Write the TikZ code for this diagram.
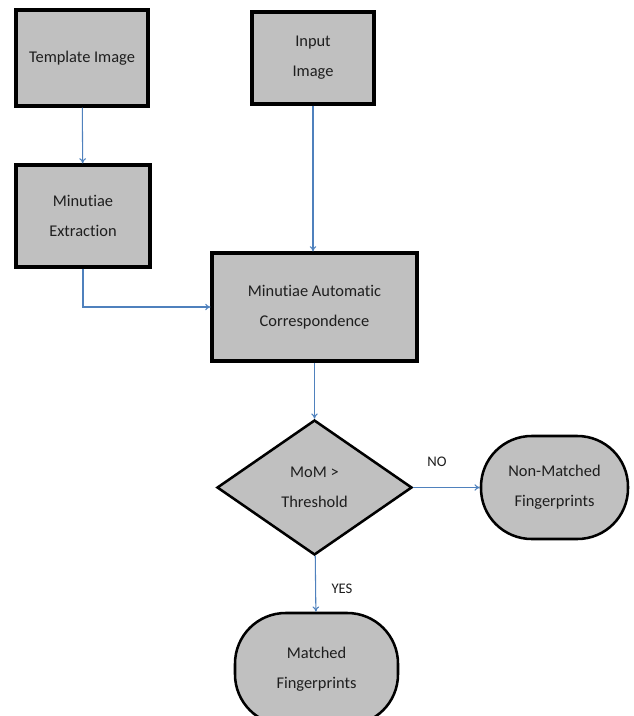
\documentclass[tikz,border=0pt]{standalone}
\usepackage{fontspec}
\setmainfont[Ligatures={NoCommon,NoContextual}]{Carlito}
\usetikzlibrary{shapes.geometric,arrows.meta}
\definecolor{boxgray}{HTML}{C0C0C0}
\definecolor{linkblue}{HTML}{4F81BD}
\definecolor{txt}{HTML}{1E1E1E}
\begin{document}
\begin{tikzpicture}[x=0.75pt,y=-0.75pt,
  every node/.style={text=txt,font=\fontsize{12.3}{22.5}\selectfont,align=center,inner sep=0pt},
  rectbox/.style={draw=black,line width=2.3pt,fill=boxgray,rectangle},
  roundbox/.style={draw=black,line width=1.9pt,fill=boxgray,rectangle,rounded corners=38pt},
  decision/.style={draw=black,line width=1.9pt,fill=boxgray,diamond},
  link/.style={draw=linkblue,line width=0.8pt,-{To[length=4pt,width=5pt]}},
  lbl/.style={font=\fontsize{11}{13}\selectfont}]
\clip (0,0) rectangle (633,716);
\node[rectbox,minimum width=99pt,minimum height=72pt] (ti) at (82,58) {Template Image};
\node[rectbox,minimum width=91.5pt,minimum height=69pt] (inp) at (313,58) {Input\\Image};
\node[rectbox,minimum width=100.5pt,minimum height=76.5pt] (me) at (83,216) {Minutiae\\Extraction};
\node[rectbox,minimum width=153.75pt,minimum height=81pt] (mac) at (314.5,307) {Minutiae Automatic\\Correspondence};
\node[decision,minimum width=146.25pt,minimum height=101.25pt] (dec) at (314.5,487.5) {MoM >\\Threshold};
\node[roundbox,minimum width=110.25pt,minimum height=77.25pt] (nm) at (554.5,487.5) {Non-Matched\\Fingerprints};
\node[roundbox,minimum width=122.25pt,minimum height=84pt] (mf) at (316.5,669) {Matched\\Fingerprints};
\node[lbl] (no) at (437,462) {NO};
\node[lbl] (yes) at (342,589) {YES};
\draw[link] (ti) -- (me);
\draw[link] (inp.south) -- (inp.south |- mac.north);
\draw[link] (me.south) |- (mac.west);
\draw[link] (mac) -- (dec);
\draw[link] (dec) -- (nm);
\draw[link] (dec) -- (mf);
\end{tikzpicture}
\end{document}
